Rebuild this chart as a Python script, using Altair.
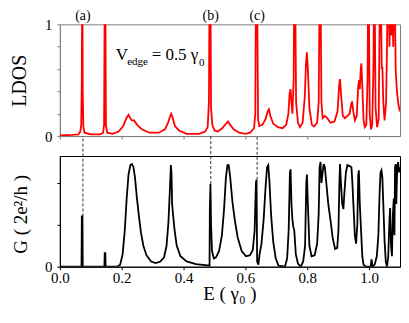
import altair as alt
import pandas as pd

# ---------------- data ----------------
E_ldos = [0.000, 0.040, 0.060, 0.066, 0.069, 0.071, 0.072, 0.073, 0.074, 0.076, 0.080,
          0.100, 0.130, 0.140, 0.143, 0.145, 0.147, 0.149, 0.153, 0.170, 0.190, 0.205,
          0.215, 0.222, 0.228, 0.233, 0.240, 0.250, 0.265, 0.290, 0.320, 0.340, 0.350,
          0.357, 0.360, 0.364, 0.372, 0.385, 0.410, 0.450, 0.470, 0.478, 0.482, 0.484,
          0.487, 0.489, 0.493, 0.500, 0.510, 0.525, 0.537, 0.544, 0.551, 0.562, 0.580,
          0.600, 0.615, 0.628, 0.632, 0.634, 0.638, 0.641, 0.645, 0.655, 0.665, 0.672,
          0.676, 0.681, 0.690, 0.705, 0.720, 0.732, 0.739, 0.743, 0.746, 0.749, 0.752,
          0.756, 0.758, 0.761, 0.764, 0.770, 0.776, 0.785, 0.792, 0.796, 0.799, 0.802,
          0.807, 0.815, 0.822, 0.832, 0.837, 0.840, 0.843, 0.846, 0.850, 0.857, 0.865,
          0.875, 0.888, 0.898, 0.903, 0.906, 0.910, 0.915, 0.922, 0.930, 0.937, 0.942,
          0.945, 0.949, 0.954, 0.960, 0.965, 0.968, 0.970, 0.973, 0.975, 0.978, 0.982,
          0.986, 0.991, 0.995, 0.997, 0.999, 1.002, 1.006, 1.010, 1.014, 1.016, 1.018,
          1.021, 1.026, 1.031, 1.035, 1.038, 1.041, 1.043, 1.046, 1.050, 1.055, 1.058,
          1.060, 1.063, 1.066, 1.069, 1.072, 1.075, 1.078, 1.080, 1.083, 1.086, 1.090,
          1.095, 1.100]
ldos = [0.005, 0.010, 0.015, 0.040, 0.100, 0.500, 1.300, 1.300, 0.400, 0.080, 0.030,
        0.015, 0.015, 0.030, 0.100, 1.300, 1.300, 0.100, 0.030, 0.020, 0.040, 0.090,
        0.160, 0.190, 0.160, 0.140, 0.140, 0.100, 0.060, 0.030, 0.030, 0.060, 0.120,
        0.180, 0.200, 0.170, 0.090, 0.050, 0.020, 0.020, 0.040, 0.080, 0.300, 1.300,
        1.300, 0.250, 0.100, 0.050, 0.040, 0.070, 0.110, 0.130, 0.100, 0.060, 0.030,
        0.020, 0.030, 0.070, 0.200, 1.300, 1.300, 0.150, 0.090, 0.100, 0.150, 0.220,
        0.240, 0.180, 0.110, 0.080, 0.070, 0.100, 0.200, 0.380, 0.420, 0.300, 0.200,
        0.500, 1.300, 1.300, 0.300, 0.120, 0.080, 0.120, 0.350, 0.650, 0.750, 0.600,
        0.250, 0.100, 0.085, 0.120, 0.300, 1.300, 1.300, 0.300, 0.160, 0.180, 0.160,
        0.120, 0.130, 0.220, 0.450, 0.510, 0.350, 0.180, 0.160, 0.180, 0.200, 0.280,
        0.310, 0.220, 0.140, 0.180, 0.450, 0.500, 0.420, 0.600, 0.650, 0.450, 0.150,
        0.080, 0.100, 0.500, 1.300, 1.300, 0.200, 0.060, 0.100, 0.600, 1.300, 1.300,
        0.250, 0.080, 0.150, 1.300, 1.300, 0.600, 0.620, 0.300, 0.140, 0.300, 0.800,
        1.300, 1.300, 0.800, 1.300, 0.900, 1.300, 0.800, 1.300, 1.300, 0.600, 0.400,
        0.280, 0.220]

E_g = [0.000, 0.070, 0.071, 0.073, 0.074, 0.144, 0.145, 0.147, 0.148, 0.185, 0.195,
       0.203, 0.210, 0.216, 0.222, 0.228, 0.233, 0.238, 0.243, 0.249, 0.255, 0.262,
       0.270, 0.280, 0.295, 0.310, 0.325, 0.337, 0.345, 0.351, 0.356, 0.359, 0.361,
       0.363, 0.366, 0.371, 0.378, 0.390, 0.410, 0.440, 0.470, 0.484, 0.485, 0.487,
       0.489, 0.492, 0.498, 0.505, 0.515, 0.524, 0.531, 0.537, 0.542, 0.546, 0.551,
       0.558, 0.566, 0.575, 0.588, 0.602, 0.615, 0.624, 0.630, 0.634, 0.636, 0.638,
       0.642, 0.646, 0.652, 0.659, 0.665, 0.670, 0.674, 0.678, 0.683, 0.690, 0.698,
       0.707, 0.728, 0.735, 0.740, 0.744, 0.746, 0.749, 0.752, 0.755, 0.758, 0.763,
       0.770, 0.779, 0.787, 0.793, 0.797, 0.799, 0.802, 0.807, 0.814, 0.824, 0.832,
       0.837, 0.840, 0.843, 0.846, 0.849, 0.853, 0.857, 0.862, 0.868, 0.875, 0.882,
       0.890, 0.897, 0.901, 0.904, 0.906, 0.909, 0.913, 0.917, 0.920, 0.925, 0.930,
       0.937, 0.943, 0.946, 0.950, 0.954, 0.958, 0.962, 0.965, 0.967, 0.970, 0.974,
       0.978, 0.982, 0.990, 1.005, 1.008, 1.011, 1.018, 1.025, 1.030, 1.034, 1.037,
       1.040, 1.043, 1.046, 1.050, 1.054, 1.058, 1.062, 1.066, 1.068, 1.071, 1.074,
       1.077, 1.080, 1.082, 1.084, 1.086, 1.088, 1.091, 1.094, 1.097, 1.100]
g = [0.000, 0.000, 0.480, 0.480, 0.000, 0.000, 0.130, 0.130, 0.000, 0.000, 0.020,
     0.120, 0.350, 0.650, 0.880, 0.970, 0.980, 0.950, 0.850, 0.660, 0.500, 0.330,
     0.200, 0.110, 0.050, 0.035, 0.050, 0.090, 0.200, 0.420, 0.750, 0.970, 0.900,
     0.600, 0.500, 0.350, 0.200, 0.100, 0.050, 0.025, 0.015, 0.010, 0.550, 0.790,
     0.400, 0.150, 0.080, 0.090, 0.150, 0.300, 0.550, 0.850, 0.970, 0.970, 0.850,
     0.620, 0.440, 0.280, 0.150, 0.100, 0.110, 0.160, 0.350, 0.800, 0.830, 0.050,
     0.020, 0.120, 0.220, 0.450, 0.750, 0.950, 0.970, 0.800, 0.500, 0.240, 0.080,
     0.010, 0.000, 0.080, 0.350, 0.900, 0.930, 0.600, 0.450, 0.380, 0.350, 0.120,
     0.030, 0.000, 0.050, 0.200, 0.800, 0.880, 0.600, 0.200, 0.100, 0.110, 0.220,
     0.500, 0.950, 1.000, 0.800, 0.880, 0.980, 0.950, 0.790, 0.600, 0.450, 0.280,
     0.170, 0.180, 0.350, 0.800, 0.980, 0.800, 0.600, 0.550, 0.700, 0.900, 0.970,
     0.960, 0.950, 0.800, 0.550, 0.300, 0.220, 0.400, 0.880, 0.920, 0.600, 0.350,
     0.100, 0.020, 0.000, 0.000, 0.070, 0.000, 0.020, 0.100, 0.300, 0.700, 0.900,
     0.920, 0.850, 0.600, 0.250, 0.050, 0.000, 0.100, 0.450, 0.560, 0.200, 0.100,
     0.500, 0.650, 0.300, 0.950, 0.980, 0.600, 0.950, 1.000, 0.900, 0.950]

marker_E = [0.0746, 0.488, 0.638]
marker_label = ["(a)", "(b)", "(c)"]
marker_G = [0.48, 0.79, 0.83]

x_tick_values = [0.0, 0.05, 0.1, 0.15, 0.2, 0.25, 0.3, 0.35, 0.4, 0.45, 0.5, 0.55,
                 0.6, 0.65, 0.7, 0.75, 0.8, 0.85, 0.9, 0.95, 1.0, 1.05, 1.1]
y_tick_values = [0.0, 0.2, 0.4, 0.6, 0.8, 1.0]

# ---------------- chart ----------------
FONT = "Liberation Serif"
ldos_df = pd.DataFrame({"E": E_ldos, "LDOS": ldos})
g_df = pd.DataFrame({"E": E_g, "G": g})
mk_df = pd.DataFrame({"E": marker_E, "label": marker_label, "G": marker_G})
one = pd.DataFrame({"k": [0]})

W = 341
xscale = alt.Scale(domain=[0, 1.1], nice=False, zero=False)
ylab = "datum.value == 0 ? '0' : (datum.value == 1 ? '1' : '')"
xlab = "(round(datum.value*100) % 20 == 0) ? format(datum.value, '.1f') : ''"

GRAY = "#808080"

top_line = alt.Chart(ldos_df).mark_line(color="#ff0000", strokeWidth=1.8, clip=True).encode(
    x=alt.X("E:Q", scale=xscale,
            axis=alt.Axis(values=x_tick_values, labels=False, title=None, tickSize=3,
                          domainColor=GRAY, tickColor=GRAY, grid=False)),
    y=alt.Y("LDOS:Q", scale=alt.Scale(domain=[0, 1], nice=False, zero=False),
            axis=alt.Axis(values=y_tick_values, labelExpr=ylab, tickSize=3, labelPadding=5,
                          labelFont=FONT, labelFontSize=15,
                          domainColor=GRAY, tickColor=GRAY, grid=False,
                          title="LDOS", titleAngle=-90, titleX=-34, titleY=56,
                          titleFont=FONT, titleAlign="center", titleBaseline="alphabetic",
                          titleFontSize=20)),
)

top_marks = alt.Chart(mk_df).mark_text(font=FONT, fontSize=14, baseline="alphabetic",
                                       align="center", color="black").encode(
    x=alt.X("E:Q", scale=xscale), y=alt.value(-4), text="label:N")

def txt(s, px, py, fs):
    return alt.Chart(one).mark_text(text=s, font=FONT, fontSize=fs, align="left",
                                    baseline="alphabetic", color="black").encode(
        x=alt.value(px), y=alt.value(py))

top = alt.layer(
    top_line, top_marks,
    txt("V", 56, 36, 17), txt("edge", 67.5, 41, 11),
    txt("= 0.5 γ", 92, 36, 17), txt("0", 139.5, 42, 11),
).properties(width=W, height=112, view=alt.ViewBackground(stroke=GRAY, strokeWidth=1))

bot_line = alt.Chart(g_df).mark_line(color="black", strokeWidth=1.8, clip=True).encode(
    x=alt.X("E:Q", scale=xscale,
            axis=alt.Axis(values=x_tick_values, labelExpr=xlab, tickSize=3, labelPadding=1,
                          labelFont=FONT, labelFontSize=15,
                          domainColor="black", tickColor="black", grid=False,
                          title="E ( γ₀ )", titleX=170, titleY=33, titleAlign="center",
                          titleFont=FONT, titleBaseline="alphabetic", titleFontSize=19)),
    y=alt.Y("G:Q", scale=alt.Scale(domain=[0, 1.057], nice=False, zero=False),
            axis=alt.Axis(values=y_tick_values, labelExpr=ylab, tickSize=3, labelPadding=5,
                          labelFont=FONT, labelFontSize=15,
                          domainColor="black", tickColor="black", grid=False,
                          title="G ( 2e²/h )", titleAngle=-90, titleX=-33, titleY=58,
                          titleFont=FONT, titleAlign="center", titleBaseline="alphabetic",
                          titleFontSize=19)),
)

bot_rules = alt.Chart(mk_df).mark_rule(color="#333333", strokeWidth=1, strokeDash=[3, 2]).encode(
    x=alt.X("E:Q", scale=xscale), y=alt.Y("G:Q"), y2=alt.value(-20))

bottom = alt.layer(bot_line, bot_rules).properties(
    width=W, height=111, view=alt.ViewBackground(stroke="black", strokeWidth=1))

chart = alt.vconcat(top, bottom, spacing=20, bounds="flush").configure(
    font=FONT, padding={"left": 1, "top": 0, "right": 0, "bottom": 0}
).configure_axis(
    labelFont=FONT, titleFont=FONT, labelFontSize=15, labelColor="black",
    titleColor="black", titleFontWeight="normal", labelFlush=False, labelOverlap=False
)

chart.save("out.html", embed_options={"renderer": "svg", "actions": False})
